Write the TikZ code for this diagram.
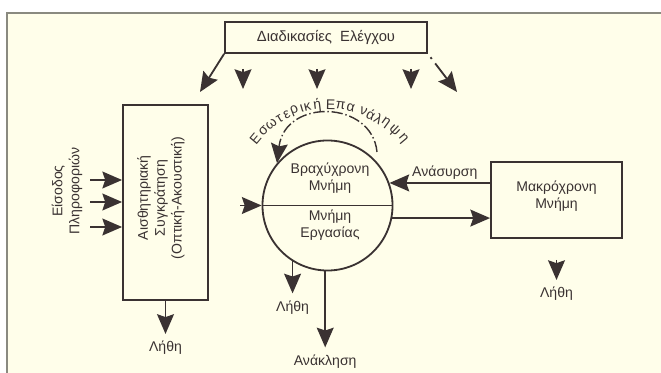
\documentclass[tikz,border=0pt]{standalone}
\usepackage{fontspec}
\setmainfont{Liberation Sans}
\usetikzlibrary{arrows.meta,positioning}
\definecolor{paper}{HTML}{FFFEEA}
\definecolor{ink}{HTML}{3A3232}
\definecolor{rim}{HTML}{8A8A80}
\tikzset{
  box/.style={draw=ink,line width=1.3pt,align=center,inner sep=0pt},
  lbl/.style={text=ink,align=center,inner sep=1pt},
  tip/.style={draw=ink,line width=1.3pt,-{Stealth[length=14pt,width=12pt,inset=2pt]}},
}
\begin{document}
\begin{tikzpicture}[x=0.025cm,y=0.025cm,font=\fontsize{10}{12}\selectfont]
  \useasboundingbox (0,0) rectangle (661,373);
  \fill[white] (0,0) rectangle (661,373);
  \fill[paper] (7,0) rectangle (661,360);
  \draw[rim,line width=1pt] (7,0) -- (7,360) -- (661,360);

  \node[box,minimum width=5.05cm,minimum height=0.775cm,text=ink,font=\fontsize{10.5}{12}\selectfont] (ctl) at (326,335.5) {Διαδικασίες\ \ Ελέγχου};
  \node[box,minimum width=2.125cm,minimum height=4.875cm] (sens) at (165.5,170.5) {};
  \node[lbl,rotate=90] (senstxt) at (161,175) {Αισθητηριακή\\Συγκράτηση\\(Οπτική-Ακουστική)};
  \node[lbl,rotate=90] (input) at (67,182) {Είσοδος\\Πληροφοριών};
  \node[box,circle,minimum size=3.25cm] (stm) at (327.5,167.5) {};
  \node[lbl] (stmtxt) at (330,195) {Βραχύχρονη\\Μνήμη};
  \node[lbl] (wmtxt) at (330,148) {Μνήμη\\Εργασίας};
  \node[box,minimum width=3.275cm,minimum height=1.9cm] (ltm) at (556.5,173) {};
  \node[lbl] (ltmtxt) at (556.5,177) {Μακρόχρονη\\Μνήμη};

  % control arrows
  \draw[tip] (ctl.south west) -- (200,281);
  \foreach[count=\i] \x in {243,317,411} {
    \coordinate (c\i) at (\x,304);
    \draw[tip] (c\i) -- ++(0,-20);
  }
  \draw[tip,dash pattern=on 0pt off 3pt on 1.5pt off 4pt on 40pt] (ctl.south east) -- (457,281);

  \foreach \y in {193,171,146}
    \draw[tip] (90,\y) -- (sens.west |- 0,\y);
  \draw[tip] (sens.south) -- ++(0,-33) coordinate (e1);
  \node[lbl,below=4pt of e1] (forget1) {Λήθη};

  \draw[ink,line width=1.3pt] (stm.west) -- (stm.east);
  \coordinate (inA) at (240,167.5);
  \draw[tip] (inA) -- (stm.west);
  \draw[tip] (ltm.west |- stm.20) -- node[lbl,above=1pt,pos=0.45] (retr) {Ανάσυρση} (stm.20);
  \draw[tip] (stm.-11) -- (ltm.west |- stm.-11);
  \draw[tip] (stm.238) -- ++(0,-32) coordinate (e2);
  \node[lbl,below=4pt of e2] (forget2) {Λήθη};
  \draw[tip] (stm.268) -- ++(0,-76) coordinate (e3);
  \node[lbl,below=4pt of e3] (recall) {Ανάκληση};
  \coordinate (c4) at (556.5,113);
  \draw[tip] (c4) -- ++(0,-20) coordinate (e4);
  \node[lbl,below=4pt of e4] (forget3) {Λήθη};

  % rehearsal loop
  \coordinate (r0) at (377,221);
  \draw[tip,line width=1pt,dash pattern=on 8pt off 2pt on 1pt off 2pt] (r0) .. controls (372,273) and (285,275) .. (stm.140);
  \foreach \a/\ch in {140/Ε,133/σ,127/ω,121/τ,116/ε,111/ρ,106.5/ι,103/κ,97/ή,89/Ε,83/π,77/α,69/ν,64/ά,59/λ,54/η,47/ψ,40/η}
    \path (329,172) ++(\a:96) node[lbl,inner sep=0pt,rotate=\a-90] {\ch};
\end{tikzpicture}
\end{document}
